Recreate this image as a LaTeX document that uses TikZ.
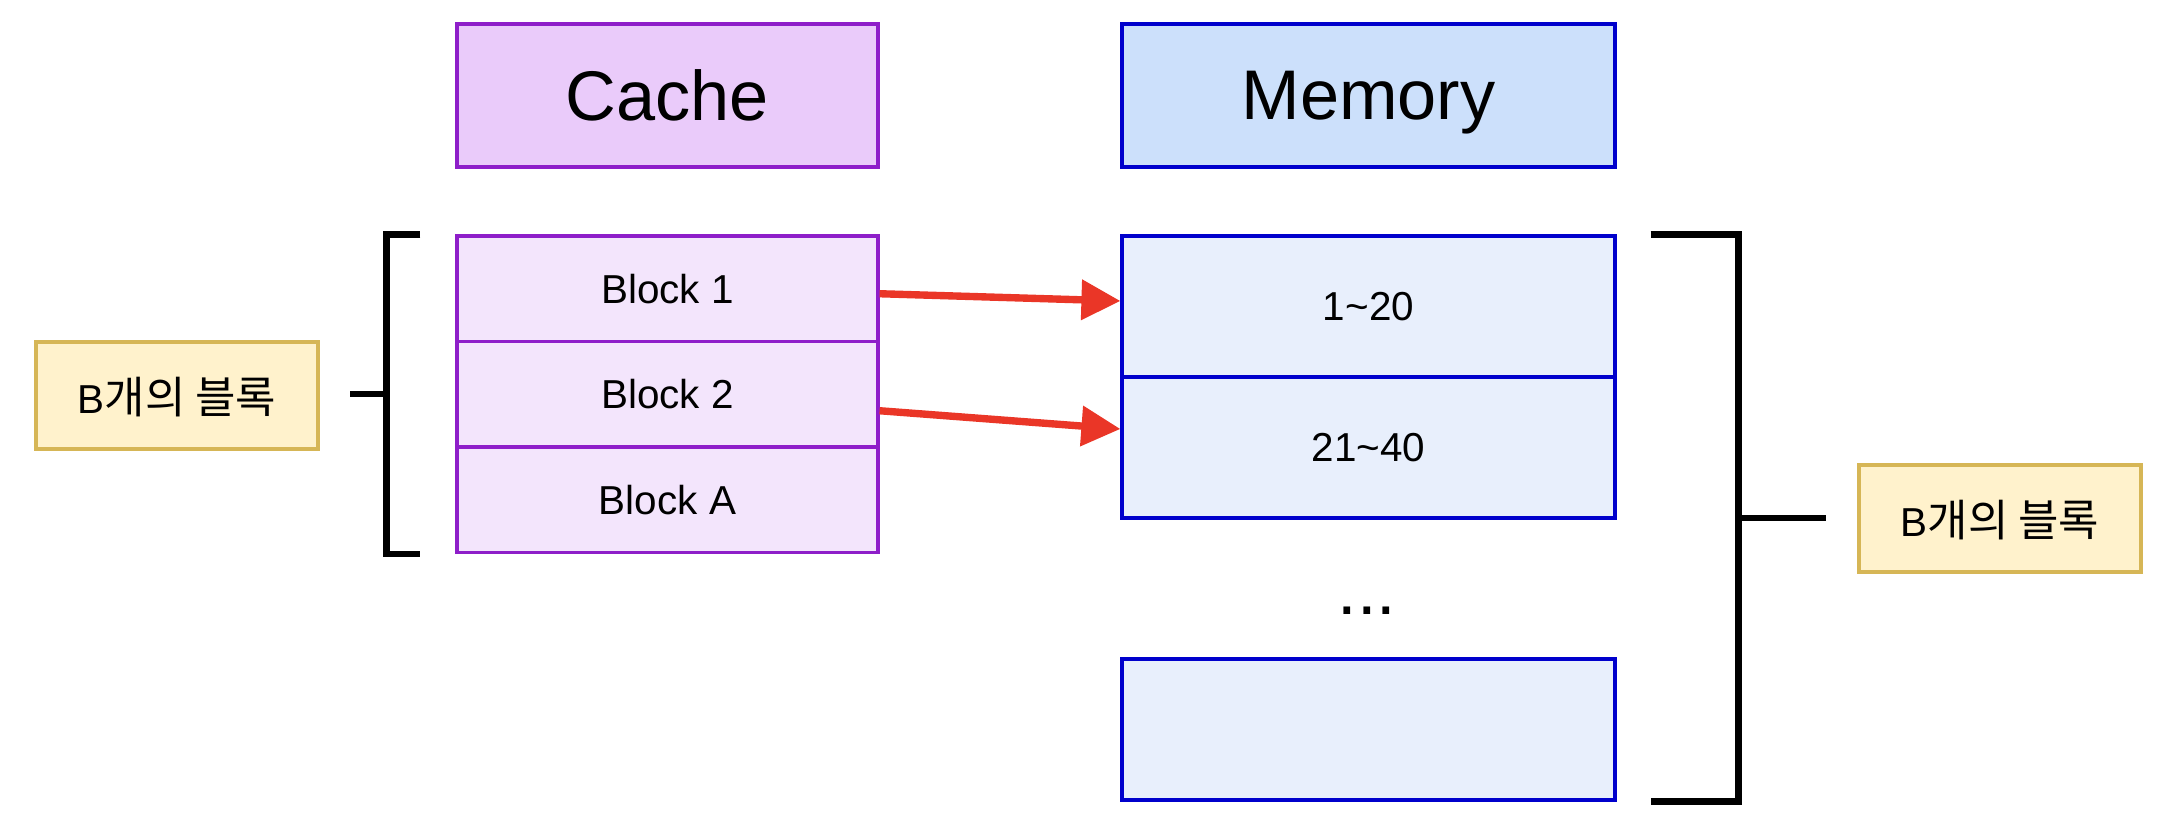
\documentclass[tikz,border=0pt]{standalone}
\usepackage{fontspec}
\setmainfont{Liberation Sans}
\newfontfamily\krfont{Noto Sans CJK KR}
\usetikzlibrary{arrows.meta,calc}

\definecolor{cachefill}{HTML}{EACBFA}
\definecolor{cacherowfill}{HTML}{F3E5FC}
\definecolor{cacheline}{HTML}{8E1EC9}
\definecolor{memfill}{HTML}{CCE0FB}
\definecolor{memrowfill}{HTML}{E8EFFC}
\definecolor{memline}{HTML}{0000CC}
\definecolor{notefill}{HTML}{FFF2CC}
\definecolor{noteline}{HTML}{D6B656}
\definecolor{arrowred}{HTML}{EA3627}

\begin{document}
\begin{tikzpicture}[
    cachebox/.style={draw=cacheline, line width=1.8pt, inner sep=0pt, minimum width=8.42cm},
    membox/.style={draw=memline, line width=1.8pt, inner sep=0pt, minimum width=9.86cm},
    title/.style={minimum height=2.86cm, text depth=0pt, font=\fontsize{40}{48}\selectfont},
    row/.style={text depth=0pt, font=\fontsize{23}{28}\selectfont},
    note/.style={draw=noteline, fill=notefill, line width=1.8pt, inner sep=0pt, text depth=0pt,
        minimum width=5.64cm, minimum height=2.14cm, font=\fontsize{23}{28}\selectfont},
    brace/.style={line width=3.7pt},
    link/.style={draw=arrowred, line width=4.2pt, -{Triangle[length=0.78cm, width=0.78cm]}}]
\useasboundingbox (0,0) rectangle (43.56,16.64);

% headers
\node[cachebox, title, fill=cachefill] (cache) at (13.35,14.73) {Cache};
\node[membox, title, fill=memfill] (memory) at (27.37,14.73) {Memory};

% cache blocks
\foreach \lbl [count=\n] in {1,2,A}
    \node[cachebox, row, fill=cacherowfill, minimum height=2.11cm] (b\lbl) at (13.35,12.975-2.11*\n) {Block \lbl};

% memory blocks
\node[membox, row, fill=memrowfill, minimum height=2.82cm] (m1) at (27.37,10.51) {1\textasciitilde 20};
\node[membox, row, fill=memrowfill, minimum height=2.82cm] (m2) at (27.37,7.69) {21\textasciitilde 40};
\node[membox, fill=memrowfill, minimum height=2.82cm] (mlast) at (27.37,2.05) {};
\node[anchor=base, inner sep=0pt, font=\fontsize{40}{48}\selectfont] (dots) at (27.34,4.34) {...};

% labels
\node[note] (lnote) at (3.54,8.73) {B{\krfont\fontsize{25}{30}\selectfont 개의 블록}};
\node[note] (rnote) at (40.0,6.27) {B{\krfont\fontsize{25}{30}\selectfont 개의 블록}};

% brackets
\draw[brace] ([xshift=-0.7cm]b1.north west) -| ([xshift=-1.38cm]bA.south west) -- ([xshift=-0.7cm]bA.south west);
\coordinate (lmid) at ($([xshift=-1.38cm]b1.north west)!0.5!([xshift=-1.38cm]bA.south west)$);
\draw[brace] (lmid) -- ++(-0.72,0);
\draw[brace] ([xshift=0.68cm]m1.north east) -| ([xshift=2.44cm]mlast.south east) -- ([xshift=0.68cm]mlast.south east);
\coordinate (rmid) at ($([xshift=2.44cm]m1.north east)!0.5!([xshift=2.44cm]mlast.south east)$);
\draw[brace] (rmid) -- ++(1.74,0);

% arrows
\draw[link] ([yshift=-0.1cm]b1.east) -- ([yshift=0.11cm]m1.west);
\draw[link] ([yshift=-0.33cm]b2.east) -- ([yshift=0.37cm]m2.west);
\end{tikzpicture}
\end{document}
